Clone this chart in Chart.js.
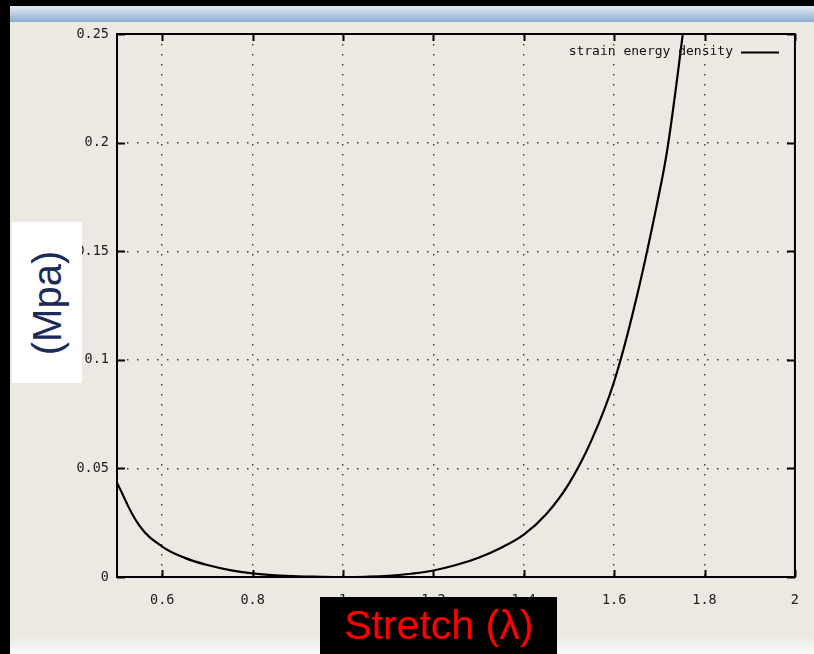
<!DOCTYPE html>
<html>
<head>
<meta charset="utf-8">
<script src="https://cdn.jsdelivr.net/npm/chart.js@4.4.1/dist/chart.umd.min.js"></script>
<style>
  html, body { margin: 0; padding: 0; background: #000; }
  #wrap { position: relative; width: 814px; height: 654px; overflow: hidden; }
  #c { position: absolute; left: 0; top: 0; }
  .ylab {
    position: absolute; left: 12px; top: 222px; width: 70px; height: 161px;
    background: #fff;
  }
  .ylab span {
    position: absolute; left: 50%; top: 50%;
    transform: translate(-50%, -50%) rotate(-90deg);
    font: 40px "Liberation Sans", Arial, sans-serif; color: #1c2a5a; white-space: nowrap;
  }
  .xlab {
    position: absolute; left: 320px; top: 597px; width: 237px; height: 57px;
    background: #000; color: #ff0000; text-align: center;
    font: 41px "Liberation Sans", Arial, sans-serif; line-height: 57px; white-space: nowrap;
  }
</style>
</head>
<body>
<div id="wrap">
  <canvas id="c" width="814" height="654"></canvas>
  <div class="ylab"><span>(Mpa)</span></div>
  <div class="xlab">Stretch (λ)</div>
</div>
<script>
// datos
const stretch = [0.50, 0.55, 0.60, 0.65, 0.70, 0.75, 0.80, 0.85, 0.90, 0.95, 1.00, 1.05, 1.10, 1.15, 1.20,
  1.25, 1.30, 1.35, 1.40, 1.45, 1.50, 1.55, 1.60, 1.65, 1.70, 1.72, 1.75, 1.78];
const energy = [0.0433, 0.0235, 0.0140, 0.0088, 0.0055, 0.0032, 0.0017, 0.0008, 0.0003, 0.0001, 0.0000, 0.0001,
  0.0005, 0.0015, 0.0030, 0.0055, 0.0089, 0.0135, 0.0195, 0.0290, 0.0430, 0.0630, 0.0900, 0.1290, 0.1770,
  0.2000, 0.2470, 0.3000];
const xTicks = [0.6, 0.8, 1, 1.2, 1.4, 1.6, 1.8, 2];
const xTickLabels = ['0.6', '0.8', '1', '1.2', '1.4', '1.6', '1.8', '2'];
const yTicks = [0, 0.05, 0.1, 0.15, 0.2, 0.25];
const yTickLabels = ['0', '0.05', '0.1', '0.15', '0.2', '0.25'];
const seriesName = 'strain energy density';

const monoFont = { family: '"DejaVu Sans Mono", "Liberation Mono", monospace', size: 13.5 };

// fondo tipo ventana
const backdrop = {
  id: 'backdrop',
  beforeDraw(chart) {
    const ctx = chart.ctx;
    ctx.save();
    ctx.fillStyle = '#000';
    ctx.fillRect(0, 0, 814, 654);
    ctx.fillStyle = '#ece9e2';
    ctx.fillRect(10, 21, 804, 621);
    const g = ctx.createLinearGradient(0, 6, 0, 22);
    g.addColorStop(0, '#e4ecf6');
    g.addColorStop(1, '#8eaad0');
    ctx.fillStyle = g;
    ctx.fillRect(10, 6, 804, 16);
    const b = ctx.createLinearGradient(0, 636, 0, 654);
    b.addColorStop(0, '#ece9e2');
    b.addColorStop(1, '#fafafa');
    ctx.fillStyle = b;
    ctx.fillRect(10, 636, 804, 18);
    ctx.restore();
  }
};

// marco, ticks hacia adentro y leyenda (estilo gnuplot)
const frame = {
  id: 'frame',
  afterDatasetsDraw(chart) {
    const { ctx, chartArea: a, scales } = chart;
    ctx.save();
    ctx.strokeStyle = '#000';
    ctx.lineWidth = 2;
    ctx.beginPath();
    xTicks.forEach(v => {
      const px = Math.round(scales.x.getPixelForValue(v)) + 0.5;
      ctx.moveTo(px, a.bottom); ctx.lineTo(px, a.bottom - 7);
      ctx.moveTo(px, a.top); ctx.lineTo(px, a.top + 7);
    });
    yTicks.forEach(v => {
      const py = Math.round(scales.y.getPixelForValue(v)) + 0.5;
      ctx.moveTo(a.left, py); ctx.lineTo(a.left + 8, py);
      ctx.moveTo(a.right, py); ctx.lineTo(a.right - 8, py);
    });
    ctx.stroke();
    ctx.strokeRect(a.left, a.top, a.right - a.left, a.bottom - a.top);

    // leyenda
    ctx.fillStyle = '#111';
    ctx.font = '13px "DejaVu Sans Mono", "Liberation Mono", monospace';
    ctx.textAlign = 'right';
    ctx.textBaseline = 'middle';
    ctx.fillText(seriesName, 733, 52);
    ctx.beginPath();
    ctx.moveTo(741, 52.5);
    ctx.lineTo(779, 52.5);
    ctx.stroke();
    ctx.restore();
  }
};

new Chart(document.getElementById('c').getContext('2d'), {
  type: 'line',
  data: {
    datasets: [{
      label: seriesName,
      data: stretch.map((x, i) => ({ x: x, y: energy[i] })),
      borderColor: '#000',
      borderWidth: 2.2,
      pointRadius: 0,
      fill: false,
      tension: 0.4
    }]
  },
  options: {
    responsive: false,
    animation: false,
    layout: { padding: { left: 0, top: 34, right: 18, bottom: 0 } },
    plugins: { legend: { display: false }, tooltip: { enabled: false } },
    scales: {
      x: {
        type: 'linear', min: 0.5, max: 2,
        afterBuildTicks: s => { s.ticks = xTicks.map(v => ({ value: v })); },
        afterFit: s => { s.height = 77; },
        ticks: {
          font: monoFont, color: '#222', padding: 15, maxRotation: 0, autoSkip: false,
          callback: (v) => xTickLabels[xTicks.indexOf(v)]
        },
        grid: { color: '#3a3a3a', lineWidth: 1.4, drawTicks: false },
        border: { display: false, dash: [1.5, 8.5] }
      },
      y: {
        type: 'linear', min: 0, max: 0.25,
        afterBuildTicks: s => { s.ticks = yTicks.map(v => ({ value: v })); },
        afterFit: s => { s.width = 117; },
        ticks: {
          font: monoFont, color: '#222', padding: 8,
          callback: (v) => yTickLabels[yTicks.indexOf(v)]
        },
        grid: { color: '#3a3a3a', lineWidth: 1.4, drawTicks: false },
        border: { display: false, dash: [1.5, 8.5] }
      }
    }
  },
  plugins: [backdrop, frame]
});
</script>
</body>
</html>
